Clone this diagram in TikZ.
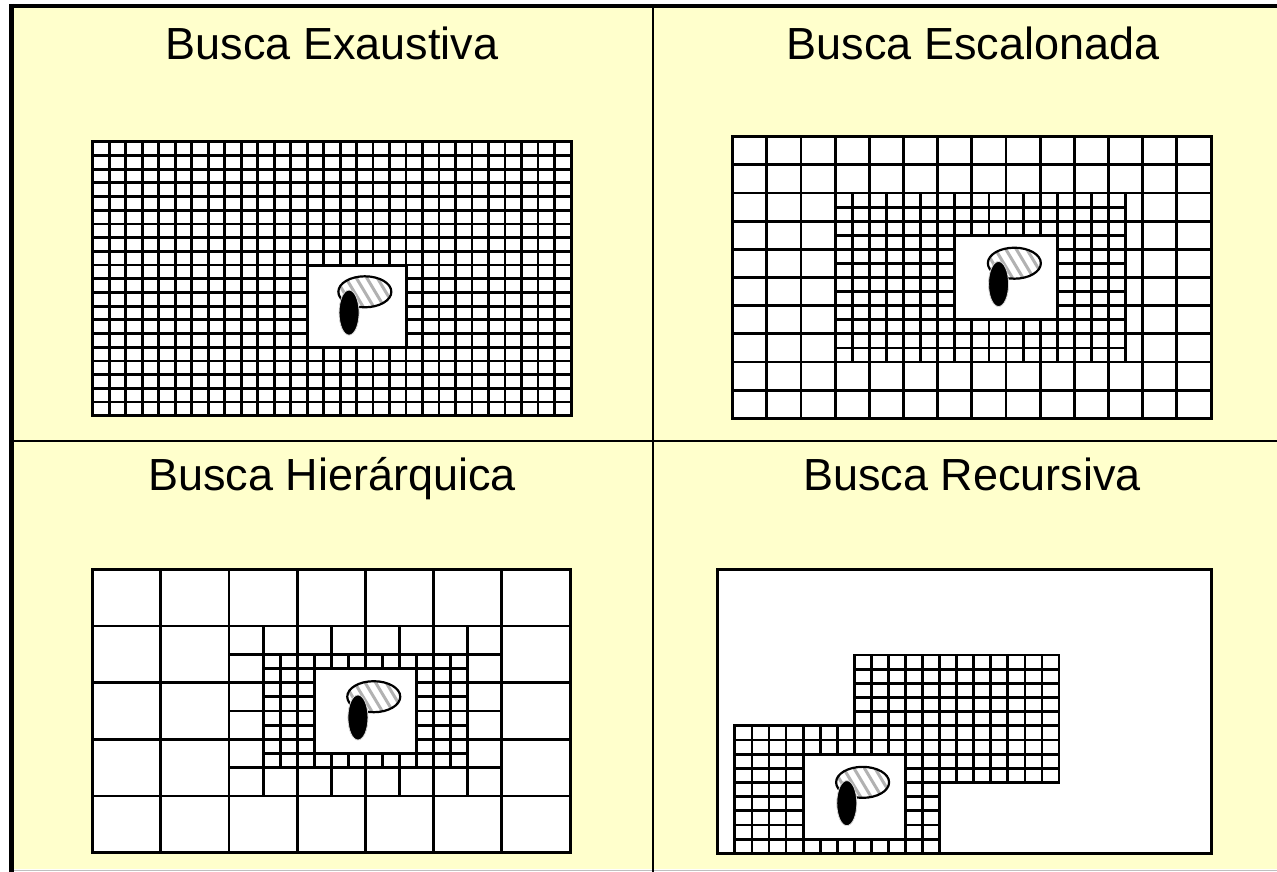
\documentclass[tikz,border=0pt]{standalone}
\usepackage{fontspec}
\setmainfont{Liberation Sans}
\definecolor{bgyellow}{HTML}{FFFFCC}
\begin{document}
\begin{tikzpicture}[x=1pt,y=-1pt,
  gridline/.style={line width=2.8pt, line cap=rect, draw=black},
  framebox/.style={line width=3pt, line join=miter, draw=black},
  holebox/.style={fill=white, draw=black, line width=3pt, line join=miter},
  divider/.style={line width=2.6pt, draw=black},
  titletext/.style={anchor=base, font=\fontsize{45}{50}\selectfont, inner sep=0pt},
  stripe/.style={draw=gray!60, line width=3pt},
  spotoutline/.style={draw=black, line width=2.2pt},
  blackspot/.style={fill=black, draw=gray!30, line width=0.8pt}]
\useasboundingbox (0,0) rectangle (1277,872);
% background
\fill[white] (0,0) rectangle (1277,872);
\fill[bgyellow] (12,6) rectangle (1277,869);
\draw[gray!50, line width=0.8pt] (12,870) -- (1277,870);
\draw[line width=5pt] (11.5,4) -- (11.5,872);
\draw[line width=4pt] (9,6.5) -- (1277,6.5);
\draw[divider] (653,6.5) -- (653,872);
\draw[divider] (12,441) -- (1277,441);

% titles
\node[titletext] (t1) at (332,60) {Busca Exaustiva};
\node[titletext] (t2) at (973,60) {Busca Escalonada};
\node[titletext] (t3) at (332,490) {Busca Hierárquica};
\node[titletext] (t4) at (972,490) {Busca Recursiva};

% spot figure as a pic
\tikzset{spotfig/.pic={
  \fill[white] (8.3,-14.3) ellipse [x radius=26.5pt, y radius=15.5pt];
  \begin{scope}
    \clip (8.3,-14.3) ellipse [x radius=26.5pt, y radius=15.5pt];
    \foreach \s in {-4,...,4}
      \draw[stripe] ({8.3+\s*10.5-12},-34) -- ({8.3+\s*10.5+12},6);
  \end{scope}
  \draw[spotoutline] (8.3,-14.3) ellipse [x radius=26.5pt, y radius=15.5pt];
  \path[blackspot] (-7.5,6.5) ellipse [x radius=10pt, y radius=22.5pt];
}}

% ---------- Q1: exhaustive ----------
\fill[white] (92.7,141.7) rectangle (571,415.7);
\foreach \i in {0,...,29}
  \draw[gridline] ({92.7+\i*16.4931},141.7) -- ({92.7+\i*16.4931},415.7);
\foreach \j in {0,...,20}
  \draw[gridline] (92.7,{141.7+\j*13.7}) -- (571,{141.7+\j*13.7});
\draw[framebox] (92.7,141.7) rectangle (571,415.7);
\path[holebox] (307.1,265) rectangle (406,347.2);
\pic at (356.55,306.1) {spotfig};

% ---------- Q2: stepped ----------
\fill[white] (732.7,136.7) rectangle (1211,418.3);
\foreach \i in {0,...,14}
  \draw[gridline] ({732.7+\i*34.164},136.7) -- ({732.7+\i*34.164},418.3);
\foreach \j in {0,...,10}
  \draw[gridline] (732.7,{136.7+\j*28.16}) -- (1211,{136.7+\j*28.16});
\foreach \k in {6,...,23}
  \draw[gridline] ({732.7+\k*17.082},193.02) -- ({732.7+\k*17.082},362.0);
\foreach \m in {4,...,16}
  \draw[gridline] (835.2,{136.7+\m*14.08}) -- (1125.6,{136.7+\m*14.08});
\draw[framebox] (732.7,136.7) rectangle (1211,418.3);
\path[holebox] (954.8,235.3) rectangle (1057.3,319.7);
\pic at (1006.05,277.5) {spotfig};

% ---------- Q3: hierarchical ----------
\fill[white] (92.7,569.3) rectangle (570.03,852.7);
\foreach \i in {0,...,7}
  \draw[gridline] ({92.7+\i*68.19},569.3) -- ({92.7+\i*68.19},852.7);
\foreach \j in {0,...,5}
  \draw[gridline] (92.7,{569.3+\j*56.68}) -- (570.03,{569.3+\j*56.68});
\foreach \k in {4,...,12}
  \draw[gridline] ({92.7+\k*34.095},625.98) -- ({92.7+\k*34.095},796.02);
\foreach \m in {2,...,8}
  \draw[gridline] (229.08,{569.3+\m*28.34}) -- (501.84,{569.3+\m*28.34});
\foreach \q in {10,...,22}
  \draw[gridline] ({92.7+\q*17.0475},654.32) -- ({92.7+\q*17.0475},767.68);
\foreach \q in {6,...,14}
  \draw[gridline] (263.2,{569.3+\q*14.17}) -- (467.7,{569.3+\q*14.17});
\draw[framebox] (92.7,569.3) rectangle (570.03,852.7);
\path[holebox] (314.3,668.5) rectangle (416.6,753.5);
\pic at (365.45,711) {spotfig};

% ---------- Q4: recursive ----------
\fill[white] (717.7,569.3) rectangle (1211,853.3);
\foreach \i in {0,...,12}
  \draw[gridline] ({854.3+\i*17.06},655) -- ({854.3+\i*17.06},782.5);
\foreach \j in {0,...,9}
  \draw[gridline] (854.3,{655+\j*14.164}) -- (1059,{655+\j*14.164});
\foreach \i in {-7,...,5}
  \draw[gridline] ({854.3+\i*17.06},725.8) -- ({854.3+\i*17.06},853.3);
\foreach \j in {5,...,14}
  \draw[gridline] (734.9,{655+\j*14.164}) -- (939.6,{655+\j*14.164});
\draw[framebox] (717.7,569.3) rectangle (1211,853.3);
\path[holebox] (803.1,754.2) rectangle (905.5,839.1);
\pic at (854.3,796.65) {spotfig};
\end{tikzpicture}
\end{document}
